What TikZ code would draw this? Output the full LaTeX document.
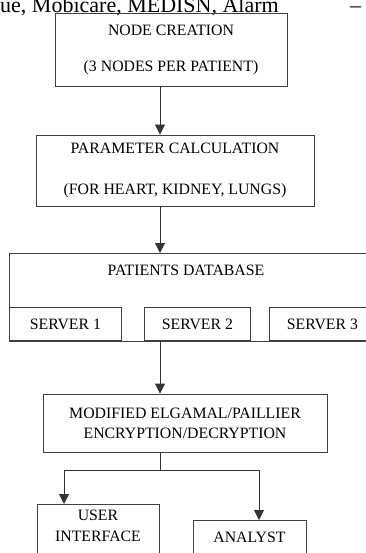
\documentclass[tikz,border=0pt]{standalone}
\usepackage{fontspec}
\setmainfont{Liberation Serif}
\usetikzlibrary{arrows.meta,positioning}

\begin{document}
\begin{tikzpicture}[>={Triangle[width=10pt,length=10pt]},x=1pt,y=-1pt,
  box/.style={draw=black!75,line width=0.9pt,rectangle,inner sep=0pt},
  lbl/.style={font=\fontsize{15.8}{20}\selectfont,align=center,inner sep=0pt},
  flow/.style={draw=black!80,line width=0.9pt,->}]
  \useasboundingbox (0,0) rectangle (365,553);
  \coordinate (spine) at (160,0);
  \coordinate (uidrop) at (64,0);
  \coordinate (androp) at (259,0);
  % caption line cut off at the top
  \node[anchor=base west,inner sep=0pt,font=\fontsize{22}{26}\selectfont] (caption) at (0,13) {ue, Mobicare, MEDISN, Alarm};
  \node[anchor=base west,inner sep=0pt,font=\fontsize{22}{26}\selectfont] (capdash) at (350,13) {--};
  % boxes
  \node[box,lbl,minimum width=232pt,minimum height=73pt] (create) at (171,49.5) {NODE CREATION\\[16pt](3 NODES PER PATIENT)};
  \node[box,lbl,minimum width=278pt,minimum height=71pt] (param) at (175,170.5) {PARAMETER CALCULATION\\[21pt](FOR HEART, KIDNEY, LUNGS)};
  \node[box,minimum width=363pt,minimum height=88pt,anchor=north west] (db) at (9,253) {};
  \node[lbl,anchor=base] (dbname) at (186,275) {PATIENTS DATABASE};
  \foreach \n/\x/\w in {1/9/112,2/144/106,3/269/106}
    \node[box,lbl,anchor=south west,minimum width=\w pt,minimum height=33pt] (srv\n) at (\x,341) {SERVER \n};
  \node[box,lbl,minimum width=284pt,minimum height=58pt] (enc) at (185,423) {MODIFIED ELGAMAL/PAILLIER\\ENCRYPTION/DECRYPTION};
  \node[box,minimum width=122pt,minimum height=60pt,anchor=north west] (ui) at (37,504) {};
  \node[lbl,anchor=north] (uiname) at (98,510) {USER\\[1pt]INTERFACE};
  \node[box,minimum width=113pt,minimum height=50pt,anchor=north west] (analyst) at (193,520) {};
  \node[lbl,anchor=base] (anname) at (249.5,542) {ANALYST};
  % connectors
  \draw[flow] (create.south -| spine) -- (param.north -| spine);
  \draw[flow] (param.south -| spine) -- (db.north -| spine);
  \draw[flow] (srv2.south -| spine) -- (enc.north -| spine);
  \coordinate (fork) at (160,470);
  \draw[draw=black!80,line width=0.9pt] (enc.south -| spine) -- (fork);
  \draw[flow] (fork) -| (ui.north -| uidrop);
  \draw[flow] (fork) -| (analyst.north -| androp);
\end{tikzpicture}
\end{document}
